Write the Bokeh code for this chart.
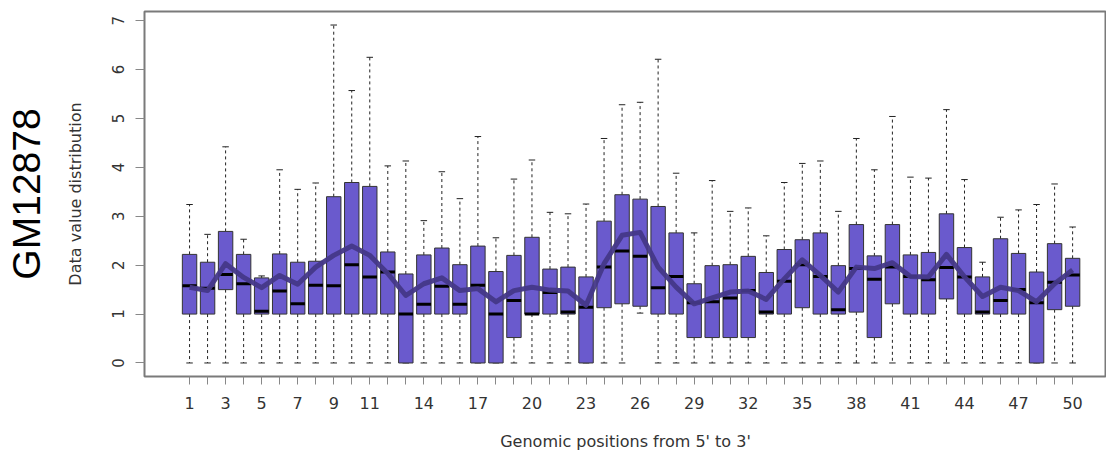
from bokeh.plotting import figure
from bokeh.models import Range1d, FixedTicker, LinearAxis, ColumnDataSource
from bokeh.embed import file_html
from bokeh.resources import INLINE

positions = list(range(1, 51))
labelled = [1, 3, 5, 7, 9, 11, 14, 17, 20, 23, 26, 29, 32, 35, 38, 41, 44, 47, 50]
y_ticks = [0, 1, 2, 3, 4, 5, 6, 7]

whisker_top = [3.24, 2.63, 4.42, 2.53, 1.78, 3.95, 3.55, 3.68, 6.91, 5.57,
               6.25, 4.03, 4.13, 2.91, 3.91, 3.36, 4.63, 2.56, 3.76, 4.15,
               3.08, 3.05, 3.25, 4.59, 5.28, 5.33, 6.21, 3.88, 2.66, 3.73,
               3.10, 3.17, 2.60, 3.69, 4.08, 4.13, 3.10, 4.59, 3.95, 5.04,
               3.80, 3.78, 5.18, 3.75, 2.06, 2.98, 3.13, 3.24, 3.66, 2.78]
q3 = [2.22, 2.06, 2.69, 2.22, 1.74, 2.23, 2.06, 2.08, 3.40, 3.69,
      3.61, 2.27, 1.82, 2.21, 2.35, 2.01, 2.39, 1.87, 2.20, 2.57,
      1.92, 1.96, 1.76, 2.90, 3.44, 3.35, 3.20, 2.66, 1.62, 1.99,
      2.01, 2.18, 1.85, 2.32, 2.52, 2.66, 1.99, 2.83, 2.19, 2.83,
      2.21, 2.26, 3.05, 2.36, 1.76, 2.54, 2.24, 1.86, 2.44, 2.14]
median = [1.58, 1.53, 1.81, 1.62, 1.06, 1.47, 1.21, 1.59, 1.58, 2.01,
          1.76, 1.86, 1.00, 1.20, 1.57, 1.20, 1.59, 1.00, 1.28, 1.00,
          1.44, 1.04, 1.14, 1.96, 2.29, 2.18, 1.54, 1.77, 1.23, 1.25,
          1.33, 1.48, 1.04, 1.67, 2.01, 1.77, 1.09, 1.93, 1.71, 1.96,
          1.77, 1.70, 1.95, 1.76, 1.04, 1.28, 1.50, 1.23, 1.65, 1.80]
q1 = [1.00, 1.00, 1.50, 1.00, 1.00, 1.00, 1.00, 1.00, 1.00, 1.00,
      1.00, 1.00, 0.00, 1.00, 1.00, 1.00, 0.00, 0.00, 0.52, 1.00,
      1.00, 1.00, 0.00, 1.13, 1.21, 1.16, 1.00, 1.00, 0.52, 0.52,
      0.52, 0.52, 1.00, 1.00, 1.13, 1.00, 1.00, 1.04, 0.52, 1.21,
      1.00, 1.00, 1.31, 1.00, 1.00, 1.00, 1.00, 0.00, 1.09, 1.16]
whisker_bottom = [0.0] * 25 + [1.02] + [0.0] * 24
mean = [1.55, 1.48, 2.03, 1.75, 1.54, 1.79, 1.61, 1.96, 2.20, 2.39,
        2.20, 1.83, 1.38, 1.62, 1.74, 1.48, 1.52, 1.25, 1.48, 1.55,
        1.49, 1.47, 1.18, 2.03, 2.61, 2.67, 1.96, 1.55, 1.21, 1.33,
        1.45, 1.47, 1.30, 1.72, 2.11, 1.79, 1.45, 1.96, 1.93, 2.05,
        1.77, 1.76, 2.22, 1.76, 1.36, 1.55, 1.48, 1.25, 1.62, 1.90]

box_w = 0.8
cap_w = 0.36

src = ColumnDataSource(dict(
    x=positions, wt=whisker_top, q3=q3, med=median, q1=q1, wb=whisker_bottom,
    bl=[x - box_w / 2 for x in positions], br=[x + box_w / 2 for x in positions],
    cl=[x - cap_w / 2 for x in positions], cr=[x + cap_w / 2 for x in positions],
))

p = figure(width=1106, height=456, output_backend="svg", toolbar_location=None,
           x_range=Range1d(-1.5, 51.88), y_range=Range1d(-0.2764, 7.1864),
           min_border_left=144, min_border_right=0, min_border_top=11,
           min_border_bottom=80)
p.background_fill_color = "white"
p.border_fill_color = "white"
p.outline_line_color = "#7a7a7a"
p.outline_line_width = 2
p.xgrid.visible = False
p.ygrid.visible = False

# whiskers
p.segment(x0="x", y0="q3", x1="x", y1="wt", source=src, line_color="#222222",
          line_width=1, line_dash="3 3")
p.segment(x0="x", y0="q1", x1="x", y1="wb", source=src, line_color="#222222",
          line_width=1, line_dash="3 3")
p.segment(x0="cl", y0="wt", x1="cr", y1="wt", source=src, line_color="#222222", line_width=1)
p.segment(x0="cl", y0="wb", x1="cr", y1="wb", source=src, line_color="#222222", line_width=1)
# boxes
p.vbar(x="x", width=box_w, top="q3", bottom="q1", source=src,
       fill_color="#6A5ACD", line_color="#333333", line_width=1)
# medians
p.segment(x0="bl", y0="med", x1="br", y1="med", source=src, line_color="black", line_width=3)
# mean line
p.line(positions, mean, line_color="#443888", line_width=5, line_alpha=0.95,
       line_join="round")

font = "DejaVu Sans"

# axes
p.xaxis.ticker = FixedTicker(ticks=positions)
p.xaxis.major_label_overrides = {t: (str(t) if t in labelled else "") for t in positions}
p.xaxis.axis_line_color = None
p.xaxis.major_tick_line_color = "#888888"
p.xaxis.major_tick_out = 8
p.xaxis.major_tick_in = 0
p.xaxis.minor_tick_line_color = None
p.xaxis.major_label_text_font = font
p.xaxis.major_label_text_font_size = "16px"
p.xaxis.major_label_text_color = "#333333"
p.xaxis.major_label_standoff = 12
p.xaxis.axis_label = "Genomic positions from 5' to 3'"
p.xaxis.axis_label_text_font = font
p.xaxis.axis_label_text_font_size = "16px"
p.xaxis.axis_label_text_font_style = "normal"
p.xaxis.axis_label_text_color = "#333333"
p.xaxis.axis_label_standoff = 20

p.yaxis.ticker = FixedTicker(ticks=y_ticks)
p.yaxis.axis_line_color = None
p.yaxis.major_tick_line_color = "#888888"
p.yaxis.major_tick_out = 9
p.yaxis.major_tick_in = 0
p.yaxis.minor_tick_line_color = None
p.yaxis.major_label_orientation = "vertical"
p.yaxis.major_label_text_font = font
p.yaxis.major_label_text_font_size = "15px"
p.yaxis.major_label_text_color = "#333333"
p.yaxis.major_label_standoff = 11
p.yaxis.axis_label = "Data value distribution"
p.yaxis.axis_label_text_font = font
p.yaxis.axis_label_text_font_size = "16px"
p.yaxis.axis_label_text_font_style = "normal"
p.yaxis.axis_label_text_color = "#333333"
p.yaxis.axis_label_standoff = 25

# outer left "axis" carrying only the big cell-line name
side = LinearAxis(ticker=FixedTicker(ticks=[]), axis_line_color=None,
                  major_tick_line_color=None, minor_tick_line_color=None,
                  major_tick_out=0, major_tick_in=0, minor_tick_out=0,
                  major_label_standoff=0, major_label_text_alpha=0,
                  axis_label="GM12878", axis_label_standoff=15,
                  axis_label_text_font="Liberation Sans",
                  axis_label_text_font_size="39px",
                  axis_label_text_font_style="normal",
                  axis_label_text_color="black")
p.add_layout(side, "left")

open("out.html", "w").write(file_html(p, INLINE))
